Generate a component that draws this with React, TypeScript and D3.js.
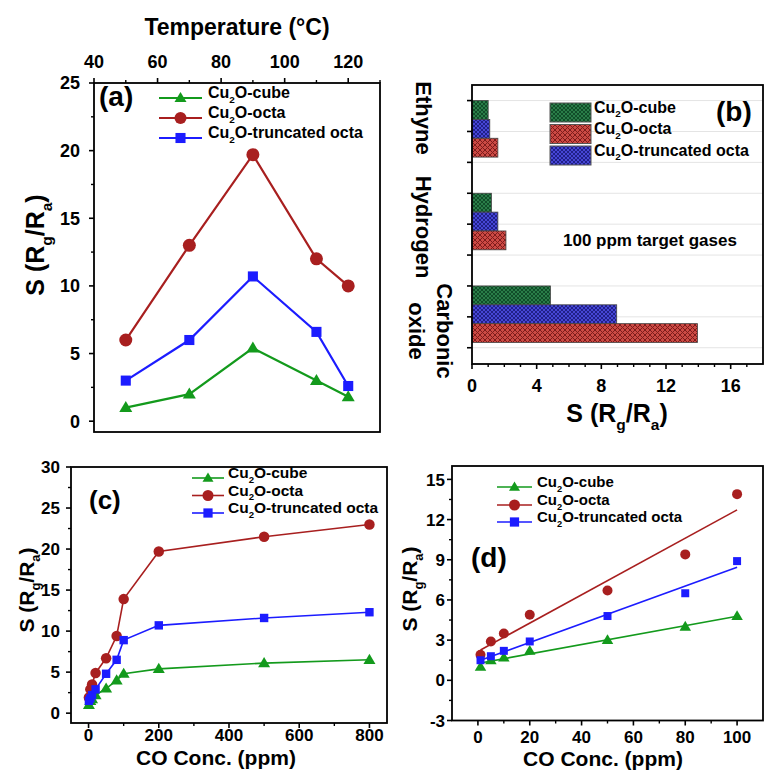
import React from "react";
import * as d3 from "d3";

const FONT = "'Liberation Sans', Arial, Helvetica, sans-serif";

// ---------- data ----------
const seriesLabels = ["cube", "octa", "truncated octa"];

const temps = [50, 70, 90, 110, 120];
const tempCube = [1.0, 2.0, 5.4, 3.0, 1.8];
const tempOcta = [6.0, 13.0, 19.7, 12.0, 10.0];
const tempTrunc = [3.0, 6.0, 10.7, 6.6, 2.6];

const gases = ["Ethyne", "Hydrogen", "Carbonic oxide"];
const gasCube = [1.0, 1.2, 4.85];
const gasTrunc = [1.1, 1.6, 8.95];
const gasOcta = [1.6, 2.1, 13.95];

const concs = [1, 5, 10, 20, 50, 80, 100, 200, 500, 800];
const concCube = [1.0, 1.5, 1.7, 2.2, 3.0, 4.0, 4.8, 5.4, 6.1, 6.5];
const concOcta = [1.9, 2.9, 3.5, 4.9, 6.7, 9.4, 13.9, 19.7, 21.5, 23.0];
const concTrunc = [1.5, 1.8, 2.2, 2.9, 4.8, 6.5, 8.9, 10.7, 11.6, 12.3];

const lowConcMax = 100;

const GREEN = "#139a1c";
const RED = "#a81f1f";
const BLUE = "#1c1cff";

type MType = "tri" | "circ" | "sq";

function Marker({ type, x, y, s, color }: { type: MType; x: number; y: number; s: number; color: string }) {
  if (type === "circ") return <circle cx={x} cy={y} r={s / 2} fill={color} />;
  if (type === "sq") return <rect x={x - s * 0.42} y={y - s * 0.42} width={s * 0.84} height={s * 0.84} fill={color} />;
  const h = s * 0.85;
  return <path d={`M${x},${y - h * 0.6} L${x + s / 2},${y + h * 0.4} L${x - s / 2},${y + h * 0.4}Z`} fill={color} />;
}

function Rich({ segs, fs }: { segs: { t: string; sub?: boolean }[]; fs: number }) {
  let off = 0;
  return (
    <>
      {segs.map((s, i) => {
        const target = s.sub ? fs * 0.3 : 0;
        const dy = target - off;
        off = target;
        return (
          <tspan key={i} dy={dy} fontSize={s.sub ? fs * 0.62 : fs}>
            {s.t}
          </tspan>
        );
      })}
    </>
  );
}

const cu2o = (suffix: string) => [{ t: "Cu" }, { t: "2", sub: true }, { t: "O-" + suffix }];
const sLabel = [{ t: "S (R" }, { t: "g", sub: true }, { t: "/R" }, { t: "a", sub: true }, { t: ")" }];

function LeftAxis({ scale, x, majors, minors, fs, labelX }: any) {
  return (
    <g>
      {majors.map((v: number) => (
        <line key={"M" + v} x1={x} x2={x - 5} y1={scale(v)} y2={scale(v)} stroke="#000" strokeWidth={1.6} />
      ))}
      {minors.map((v: number) => (
        <line key={"m" + v} x1={x} x2={x - 3} y1={scale(v)} y2={scale(v)} stroke="#000" strokeWidth={1.4} />
      ))}
      {fs
        ? majors.map((v: number) => (
            <text key={"t" + v} x={labelX} y={scale(v)} dy="0.36em" textAnchor="end" fontSize={fs} fontWeight="bold">
              {v}
            </text>
          ))
        : null}
    </g>
  );
}

function HAxis({ scale, y, majors, minors, fs, labelY, dir = 1 }: any) {
  return (
    <g>
      {majors.map((v: number) => (
        <line key={"M" + v} y1={y} y2={y + 5 * dir} x1={scale(v)} x2={scale(v)} stroke="#000" strokeWidth={1.6} />
      ))}
      {minors.map((v: number) => (
        <line key={"m" + v} y1={y} y2={y + 3 * dir} x1={scale(v)} x2={scale(v)} stroke="#000" strokeWidth={1.4} />
      ))}
      {majors.map((v: number) => (
        <text key={"t" + v} x={scale(v)} y={labelY} textAnchor="middle" fontSize={fs} fontWeight="bold">
          {v}
        </text>
      ))}
    </g>
  );
}

function LineLegend({ x1, x2, ys, tx, fs, ms, lw }: any) {
  const items = [
    { c: GREEN, m: "tri" as MType, l: seriesLabels[0] },
    { c: RED, m: "circ" as MType, l: seriesLabels[1] },
    { c: BLUE, m: "sq" as MType, l: seriesLabels[2] },
  ];
  return (
    <g>
      {items.map((it, i) => (
        <g key={i}>
          <line x1={x1} x2={x2} y1={ys[i]} y2={ys[i]} stroke={it.c} strokeWidth={lw} />
          <Marker type={it.m} x={(x1 + x2) / 2} y={ys[i]} s={ms} color={it.c} />
          <text x={tx} y={ys[i]} dy="0.36em" fontSize={fs} fontWeight="bold">
            <Rich segs={cu2o(it.l)} fs={fs} />
          </text>
        </g>
      ))}
    </g>
  );
}

function PanelA() {
  const L = 94, R = 380, T = 83, B = 432;
  const x = d3.scaleLinear().domain([40, 130]).range([L, R]);
  const y = d3.scaleLinear().domain([-0.8, 25]).range([B, T]);
  const line = d3.line<[number, number]>().x((d) => x(d[0])).y((d) => y(d[1]));
  const series = [
    { v: tempCube, c: GREEN, m: "tri" as MType, s: 13 },
    { v: tempTrunc, c: BLUE, m: "sq" as MType, s: 12 },
    { v: tempOcta, c: RED, m: "circ" as MType, s: 13 },
  ];
  return (
    <g>
      {series.map((s, i) => (
        <g key={i}>
          <path d={line(temps.map((t, j) => [t, s.v[j]]) as [number, number][]) || ""} fill="none" stroke={s.c} strokeWidth={2.2} />
          {temps.map((t, j) => (
            <Marker key={j} type={s.m} x={x(t)} y={y(s.v[j])} s={s.s} color={s.c} />
          ))}
        </g>
      ))}
      <rect x={L} y={T} width={R - L} height={B - T} fill="none" stroke="#000" strokeWidth={1.8} />
      <LeftAxis scale={y} x={L} majors={d3.range(0, 25.01, 5)} minors={d3.range(2.5, 25, 5)} fs={18} labelX={80} />
      <HAxis scale={x} y={T} dir={-1} majors={d3.range(40, 120.1, 20)} minors={d3.range(50, 130.1, 20)} fs={18} labelY={68} />
      <text x={237} y={35} textAnchor="middle" fontSize={23} fontWeight="bold">Temperature (°C)</text>
      <text transform={`translate(44,245) rotate(-90)`} textAnchor="middle" fontWeight="bold">
        <Rich segs={sLabel} fs={25} />
      </text>
      <text x={99} y={106} fontSize={28} fontWeight="bold">(a)</text>
      <LineLegend x1={159} x2={202} ys={[98, 118, 138]} tx={208} fs={16} ms={12} lw={2.2} />
    </g>
  );
}

function PanelB() {
  const L = 472, R = 763, T = 85, B = 364;
  const x = d3.scaleLinear().domain([0, 18]).range([L, R]);
  const band = d3.scaleBand<string>().domain(gases).range([T, B]).paddingInner(0.39).paddingOuter(0.2).align(0.42);
  const inner = d3.scaleBand<string>().domain(["cube", "trunc", "octa"]).range([0, band.bandwidth()]);
  const series = [
    { k: "cube", v: gasCube, f: "url(#patG)" },
    { k: "trunc", v: gasTrunc, f: "url(#patB)" },
    { k: "octa", v: gasOcta, f: "url(#patR)" },
  ];
  const step = band.step();
  const tickYs: number[] = [];
  gases.forEach((g) => [0, 1, 2].forEach((j) => tickYs.push((band(g) as number) + (j * step) / 3)));
  const legend = [
    { f: "url(#patG)", l: seriesLabels[0] },
    { f: "url(#patR)", l: seriesLabels[1] },
    { f: "url(#patB)", l: seriesLabels[2] },
  ];
  const catLabels = [
    { lines: ["Ethyne"], xs: [416], cy: 118 },
    { lines: ["Hydrogen"], xs: [416], cy: 227 },
    { lines: ["Carbonic", "oxide"], xs: [437, 409], cy: 331 },
  ];
  return (
    <g>
      {tickYs.map((ty, i) => (
        <line key={"g" + i} x1={L} x2={R} y1={ty} y2={ty} stroke="#e4e4e4" strokeWidth={1} />
      ))}
      {series.map((s) =>
        gases.map((g, j) => (
          <rect
            key={s.k + j}
            x={x(0)}
            y={(band(g) as number) + (inner(s.k) as number)}
            width={x(s.v[j]) - x(0)}
            height={inner.bandwidth()}
            fill={s.f}
            stroke="#444"
            strokeWidth={0.8}
          />
        ))
      )}
      <rect x={L} y={T} width={R - L} height={B - T} fill="none" stroke="#000" strokeWidth={1.8} />
      {tickYs.map((ty, i) => (
        <line key={"t" + i} x1={L} x2={L - 5} y1={ty} y2={ty} stroke="#000" strokeWidth={1.6} />
      ))}
      <HAxis
        scale={x}
        y={B}
        majors={d3.range(0, 16.1, 4)}
        minors={d3.range(1, 18, 1).filter((v) => v % 4 !== 0)}
        fs={18}
        labelY={392}
      />
      <text x={617} y={422} textAnchor="middle" fontWeight="bold">
        <Rich segs={sLabel} fs={25} />
      </text>
      {catLabels.map((c, i) =>
        c.lines.map((ln, k) => (
          <text
            key={gases[i] + k}
            transform={`translate(${c.xs[k]},${c.cy}) rotate(90)`}
            textAnchor="middle"
            fontSize={22}
            fontWeight="bold"
          >
            {ln}
          </text>
        ))
      )}
      {legend.map((it, i) => (
        <g key={i}>
          <rect x={550} y={103 + i * 21.5} width={41} height={19} fill={it.f} stroke="#555" strokeWidth={1} />
          <text x={594} y={112.5 + i * 21.5} dy="0.36em" fontSize={16} fontWeight="bold">
            <Rich segs={cu2o(it.l)} fs={16} />
          </text>
        </g>
      ))}
      <text x={716} y={121} fontSize={28} fontWeight="bold">(b)</text>
      <text x={563} y={246} fontSize={17} fontWeight="bold">100 ppm target gases</text>
    </g>
  );
}

function PanelC() {
  const L = 71, R = 387, T = 467, B = 723;
  const x = d3.scaleLinear().domain([-50, 850]).range([L, R]);
  const y = d3.scaleLinear().domain([-1.2, 30]).range([B, T]);
  const line = d3.line<[number, number]>().x((d) => x(d[0])).y((d) => y(d[1]));
  const series = [
    { v: concCube, c: GREEN, m: "tri" as MType, s: 12 },
    { v: concOcta, c: RED, m: "circ" as MType, s: 10.5 },
    { v: concTrunc, c: BLUE, m: "sq" as MType, s: 10 },
  ];
  return (
    <g>
      {series.map((s, i) => (
        <g key={i}>
          <path d={line(concs.map((t, j) => [t, s.v[j]]) as [number, number][]) || ""} fill="none" stroke={s.c} strokeWidth={1.6} />
          {concs.map((t, j) => (
            <Marker key={j} type={s.m} x={x(t)} y={y(s.v[j])} s={s.s} color={s.c} />
          ))}
        </g>
      ))}
      <rect x={L} y={T} width={R - L} height={B - T} fill="none" stroke="#000" strokeWidth={1.8} />
      <LeftAxis scale={y} x={L} majors={d3.range(0, 30.1, 5)} minors={d3.range(2.5, 30, 5)} fs={17} labelX={60} />
      <HAxis scale={x} y={B} majors={d3.range(0, 800.1, 200)} minors={d3.range(100, 800, 200)} fs={17} labelY={741} />
      <text x={216} y={765} textAnchor="middle" fontSize={21} fontWeight="bold">CO Conc. (ppm)</text>
      <text transform={`translate(34,590) rotate(-90)`} textAnchor="middle" fontWeight="bold">
        <Rich segs={sLabel} fs={21} />
      </text>
      <text x={89} y={509} fontSize={26} fontWeight="bold">(c)</text>
      <LineLegend x1={192} x2={224} ys={[478, 495.5, 513]} tx={228} fs={15.5} ms={11} lw={1.6} />
    </g>
  );
}

function PanelD() {
  const L = 452, R = 763, T = 466, B = 720.5;
  const x = d3.scaleLinear().domain([-10, 110]).range([L, R]);
  const y = d3.scaleLinear().domain([-3, 16]).range([B, T]);
  const idx = concs.map((c, i) => i).filter((i) => concs[i] <= lowConcMax);
  const xs = idx.map((i) => concs[i]);
  const series = [
    { v: concCube, c: GREEN, m: "tri" as MType, s: 11.5 },
    { v: concOcta, c: RED, m: "circ" as MType, s: 10 },
    { v: concTrunc, c: BLUE, m: "sq" as MType, s: 9.5 },
  ];
  const fit = (ys: number[]) => {
    const mx = d3.mean(xs) as number;
    const my = d3.mean(ys) as number;
    const sxy = d3.sum(xs, (v, i) => (v - mx) * (ys[i] - my));
    const sxx = d3.sum(xs, (v) => (v - mx) * (v - mx));
    const b = sxy / sxx;
    const a = my - b * mx;
    const x0 = d3.min(xs) as number;
    const x1 = d3.max(xs) as number;
    return [[x0, a + b * x0], [x1, a + b * x1]] as [number, number][];
  };
  const line = d3.line<[number, number]>().x((d) => x(d[0])).y((d) => y(d[1]));
  return (
    <g>
      {series.map((s, i) => {
        const ys = idx.map((k) => s.v[k]);
        return (
          <g key={i}>
            <path d={line(fit(ys)) || ""} fill="none" stroke={s.c} strokeWidth={1.6} />
            {xs.map((t, j) => (
              <Marker key={j} type={s.m} x={x(t)} y={y(ys[j])} s={s.s} color={s.c} />
            ))}
          </g>
        );
      })}
      <rect x={L} y={T} width={R - L} height={B - T} fill="none" stroke="#000" strokeWidth={1.8} />
      <LeftAxis scale={y} x={L} majors={d3.range(-3, 15.1, 3)} minors={d3.range(-1.5, 15, 3)} fs={17} labelX={445} />
      <HAxis scale={x} y={B} majors={d3.range(0, 100.1, 20)} minors={d3.range(10, 100, 20)} fs={17} labelY={743} />
      <text x={603} y={766} textAnchor="middle" fontSize={21} fontWeight="bold">CO Conc. (ppm)</text>
      <text transform={`translate(417,589) rotate(-90)`} textAnchor="middle" fontWeight="bold">
        <Rich segs={sLabel} fs={21} />
      </text>
      <text x={471} y={567} fontSize={28} fontWeight="bold">(d)</text>
      <LineLegend x1={497} x2={532} ys={[487, 505, 522]} tx={537} fs={15} ms={11} lw={1.6} />
    </g>
  );
}

export default function App() {
  return (
    <svg
      width={765}
      height={772}
      viewBox="0 0 765 772"
      style={{ position: "absolute", left: 0, top: 0, background: "#fff", fontFamily: FONT }}
    >
      <defs>
        <pattern id="patG" width="4" height="4" patternUnits="userSpaceOnUse">
          <rect width="4" height="4" fill="#2a7d48" />
          <path d="M0,0 L4,4 M4,0 L0,4" stroke="#0e4726" strokeWidth="0.9" />
        </pattern>
        <pattern id="patR" width="5" height="5" patternUnits="userSpaceOnUse">
          <rect width="5" height="5" fill="#cc4a44" />
          <path d="M0,0 L5,5 M5,0 L0,5" stroke="#7e1c1c" strokeWidth="1" />
        </pattern>
        <pattern id="patB" width="4" height="4" patternUnits="userSpaceOnUse">
          <rect width="4" height="4" fill="#4646d6" />
          <path d="M0,0 L4,4 M4,0 L0,4" stroke="#1c1c80" strokeWidth="0.9" />
        </pattern>
      </defs>
      <rect width={765} height={772} fill="#fff" />
      <PanelA />
      <PanelB />
      <PanelC />
      <PanelD />
    </svg>
  );
}
